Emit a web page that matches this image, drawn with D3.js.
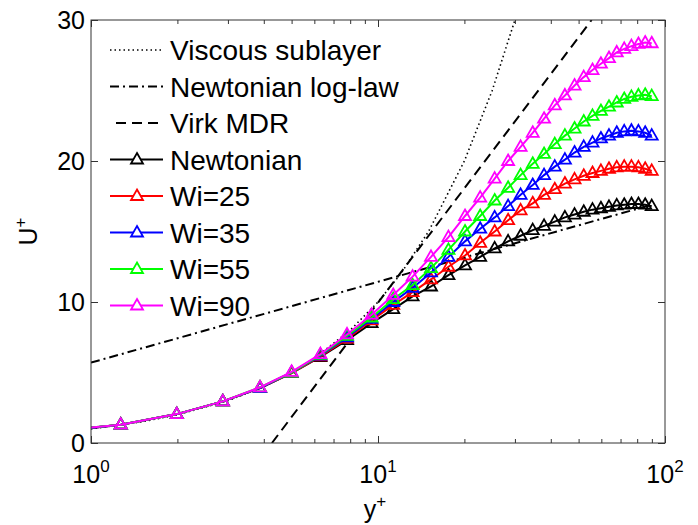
<!DOCTYPE html>
<html>
<head>
<meta charset="utf-8">
<script src="https://cdn.jsdelivr.net/npm/d3@7"></script>
<style>
body { margin: 0; background: #fff; }
text { font-family: "Liberation Sans", Arial, sans-serif; fill: #000; }
</style>
</head>
<body>
<div class="chart"></div>
<script>
// grid points (y+) shared by all simulations
const yPlus = [0.75, 1.27, 1.99, 2.88, 3.88, 5.0, 6.3, 7.8, 9.5, 11.3, 13.2, 15.3, 17.6, 20.1, 22.7, 25.5,
    28.4, 31.4, 34.6, 37.9, 41.3, 44.8, 48.4, 52.1, 55.9, 59.8, 63.8, 67.9, 72.1, 76.4, 80.8, 85.3, 89.9];

// mean velocity U+ for each case
const uNewtonian = [0.8, 1.3, 2.05, 2.95, 3.9, 4.95, 6.1, 7.3, 8.5, 9.5, 10.4, 11.1, 11.9, 12.6, 13.2, 13.8,
    14.3, 14.7, 15.1, 15.4, 15.7, 16.0, 16.2, 16.4, 16.55, 16.65, 16.75, 16.85, 16.9, 16.95, 16.95, 16.9, 16.8];
const uWi25 = [0.8, 1.3, 2.05, 2.95, 3.9, 4.95, 6.15, 7.4, 8.7, 9.8, 10.7, 11.6, 12.5, 13.3, 14.2, 15.0,
    15.8, 16.5, 17.0, 17.6, 18.0, 18.4, 18.7, 18.95, 19.15, 19.3, 19.45, 19.55, 19.6, 19.6, 19.55, 19.45, 19.3];
const uWi35 = [0.8, 1.3, 2.05, 2.95, 3.9, 5.0, 6.2, 7.5, 8.8, 10.0, 11.0, 12.1, 13.2, 14.3, 15.2, 16.0,
    16.8, 17.6, 18.3, 19.0, 19.6, 20.1, 20.6, 21.0, 21.3, 21.6, 21.8, 22.0, 22.1, 22.15, 22.1, 22.0, 21.8];
const uWi55 = [0.85, 1.3, 2.05, 2.95, 3.95, 5.0, 6.25, 7.6, 8.9, 10.2, 11.2, 12.4, 13.7, 15.0, 16.1, 17.2,
    18.1, 19.0, 19.8, 20.5, 21.2, 21.8, 22.3, 22.8, 23.2, 23.55, 23.85, 24.15, 24.4, 24.55, 24.65, 24.7, 24.6];
const uWi90 = [0.85, 1.3, 2.05, 2.95, 3.95, 5.05, 6.3, 7.7, 9.1, 10.5, 11.8, 13.2, 14.6, 16.1, 17.4, 18.75,
    20.0, 21.0, 22.0, 23.0, 23.95, 24.65, 25.35, 25.95, 26.45, 26.9, 27.3, 27.7, 27.95, 28.15, 28.3, 28.4, 28.35];

// reference laws
const viscousY = [1, 1.5, 2, 3, 4, 5, 6, 8, 10, 12, 15, 20, 25, 30];
const viscousU = [1, 1.5, 2, 3, 4, 5, 6, 8, 10, 12, 15, 20, 25, 30];
const logLawY = [1, 90];
const logLawU = [5.7, 16.9];
const virkY = [4.27, 55.5];
const virkU = [0, 30];

const seriesNames = ["Newtonian", "Wi=25", "Wi=35", "Wi=55", "Wi=90"];
const seriesColors = ["#000000", "#ff0000", "#0000ff", "#00ff00", "#ff00ff"];
const seriesValues = [uNewtonian, uWi25, uWi35, uWi55, uWi90];

const xMajor = [1, 10, 100];
const xMinor = [2, 3, 4, 5, 6, 7, 8, 9, 20, 30, 40, 50, 60, 70, 80, 90];
const yTicks = [0, 10, 20, 30];

// layout
const margin = {top: 20, right: 33, bottom: 82, left: 91};
const W = 698, H = 525;
const w = W - margin.left - margin.right;
const h = H - margin.top - margin.bottom;

var svg = d3.select(".chart")
    .append("svg")
    .attr("width", W)
    .attr("height", H)
    .append("g")
    .attr("transform", "translate(" + margin.left + "," + margin.top + ")");

var x = d3.scaleLog().domain([1, 100]).range([0, w]);
var y = d3.scaleLinear().domain([0, 30]).range([h, 0]);

svg.append("clipPath").attr("id", "plotclip")
    .append("rect").attr("width", w).attr("height", h);

var line = d3.line().x(d => x(d[0])).y(d => y(d[1]));
var plot = svg.append("g").attr("clip-path", "url(#plotclip)");

// reference lines
plot.append("path")
    .datum(d3.zip(viscousY, viscousU))
    .attr("d", line)
    .attr("fill", "none").attr("stroke", "#000").attr("stroke-width", 1.6)
    .attr("stroke-dasharray", "1.5,3");
plot.append("path")
    .datum(d3.zip(logLawY, logLawU))
    .attr("d", line)
    .attr("fill", "none").attr("stroke", "#000").attr("stroke-width", 2)
    .attr("stroke-dasharray", "9,4,2,4");
plot.append("path")
    .datum(d3.zip(virkY, virkU))
    .attr("d", line)
    .attr("fill", "none").attr("stroke", "#000").attr("stroke-width", 2)
    .attr("stroke-dasharray", "10,6");

var tri = "M0,-6.5L6,4L-6,4Z";

// simulation curves
seriesValues.forEach(function(vals, i) {
    var pts = d3.zip(yPlus, vals);
    plot.append("path")
        .datum(pts)
        .attr("d", line)
        .attr("fill", "none")
        .attr("stroke", seriesColors[i])
        .attr("stroke-width", 2);
    plot.selectAll(".m" + i)
        .data(pts)
        .enter()
        .append("path")
        .attr("class", "m" + i)
        .attr("d", tri)
        .attr("transform", d => "translate(" + x(d[0]) + "," + y(d[1]) + ")")
        .attr("fill", "none")
        .attr("stroke", seriesColors[i])
        .attr("stroke-width", 1.8);
});

// axes: ticks inside, on all four sides
var axisColor = "#333";
function styleAxis(g) {
    g.select(".domain").remove();
    g.selectAll("line").attr("stroke", axisColor);
}
svg.append("g").attr("transform", "translate(0," + h + ")")
    .call(d3.axisBottom(x).tickValues(xMajor).tickSize(-7).tickFormat("")).call(styleAxis);
svg.append("g").attr("transform", "translate(0," + h + ")")
    .call(d3.axisBottom(x).tickValues(xMinor).tickSize(-4).tickFormat("")).call(styleAxis);
svg.append("g")
    .call(d3.axisTop(x).tickValues(xMajor).tickSize(-7).tickFormat("")).call(styleAxis);
svg.append("g")
    .call(d3.axisTop(x).tickValues(xMinor).tickSize(-4).tickFormat("")).call(styleAxis);
svg.append("g")
    .call(d3.axisLeft(y).tickValues(yTicks).tickSize(-7).tickFormat("")).call(styleAxis);
svg.append("g").attr("transform", "translate(" + w + ",0)")
    .call(d3.axisRight(y).tickValues(yTicks).tickSize(-7).tickFormat("")).call(styleAxis);

svg.append("rect")
    .attr("width", w).attr("height", h)
    .attr("fill", "none").attr("stroke", axisColor).attr("stroke-width", 1);

// tick labels
svg.selectAll(".ylab")
    .data(yTicks)
    .enter()
    .append("text")
    .attr("class", "ylab")
    .attr("x", -6)
    .attr("y", d => y(d) + 9)
    .attr("text-anchor", "end")
    .style("font-size", "25px")
    .text(d => d);

var xl = svg.selectAll(".xlab")
    .data(xMajor)
    .enter()
    .append("text")
    .attr("class", "xlab")
    .attr("x", d => x(d))
    .attr("y", h + 40)
    .attr("text-anchor", "middle")
    .style("font-size", "25px");
xl.append("tspan").text("10");
xl.append("tspan").attr("dy", -11).style("font-size", "17px").text(d => Math.round(Math.log10(d)));

// axis titles
var xt = svg.append("text")
    .attr("x", w / 2 - 3)
    .attr("y", h + 75)
    .attr("text-anchor", "middle")
    .style("font-size", "25px");
xt.append("tspan").text("y");
xt.append("tspan").attr("dy", -11).style("font-size", "17px").text("+");

var yt = svg.append("text")
    .attr("transform", "translate(" + (-54) + "," + (h / 2) + ") rotate(-90)")
    .attr("text-anchor", "middle")
    .style("font-size", "25px");
yt.append("tspan").text("U");
yt.append("tspan").attr("dy", -11).style("font-size", "17px").text("+");

// legend
var legendItems = [
    {name: "Viscous sublayer", color: "#000", dash: "1.5,3", width: 1.6, marker: false, x0: 19},
    {name: "Newtonian log-law", color: "#000", dash: "9,4,2,4", width: 2, marker: false, x0: 19},
    {name: "Virk MDR", color: "#000", dash: "10,6", width: 2, marker: false, x0: 25}
];
seriesNames.forEach(function(n, i) {
    legendItems.push({name: n, color: seriesColors[i], dash: null, width: 2, marker: true, x0: 19});
});

var legend = svg.append("g");
var rowH = 36.5;
var items = legend.selectAll(".leg")
    .data(legendItems)
    .enter()
    .append("g")
    .attr("class", "leg")
    .attr("transform", (d, i) => "translate(0," + (30 + i * rowH) + ")");
items.append("line")
    .attr("x1", d => d.x0).attr("x2", 72)
    .attr("stroke", d => d.color)
    .attr("stroke-width", d => d.width)
    .attr("stroke-dasharray", d => d.dash);
items.filter(d => d.marker)
    .append("path")
    .attr("d", tri)
    .attr("transform", "translate(46,0)")
    .attr("fill", "#fff")
    .attr("stroke", d => d.color)
    .attr("stroke-width", 1.8);
items.append("text")
    .attr("x", 79)
    .attr("y", 10)
    .style("font-size", "28px")
    .text(d => d.name);
</script>
</body>
</html>
